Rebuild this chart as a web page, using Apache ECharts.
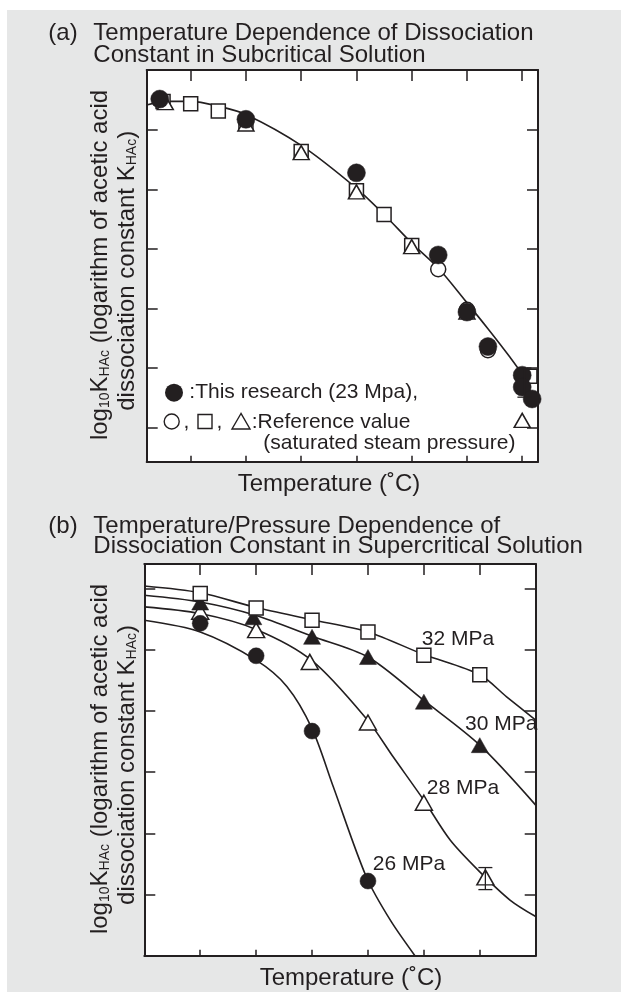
<!DOCTYPE html>
<html>
<head>
<meta charset="utf-8">
<title>Dissociation constant of acetic acid</title>
<script src="https://cdn.jsdelivr.net/npm/echarts@6/dist/echarts.min.js"></script>
<style>
  html, body { margin: 0; padding: 0; background: #fff; }
  #chart { width: 621px; height: 992px; }
</style>
</head>
<body>
<div id="chart"></div>
<script>
// ---- (a) subcritical, temperature in degC, value = log10 K_HAc ----
const aTicksT = [50, 100, 150, 200, 250, 300, 350]
const aTicksLogK = [-5, -5.5, -6, -6.5, -7, -7.5]
const aResearch = [[22, -4.74], [100, -4.91], [200, -5.36], [274, -6.05], [300, -6.53], [319, -6.82], [350, -7.06], [350, -7.16], [359, -7.26]]
const aRefCircle = [[274, -6.17], [300, -6.51], [319, -6.85]]
const aRefSquare = [[25, -4.76], [50, -4.78], [75, -4.84], [100, -4.94], [150, -5.18], [200, -5.51], [225, -5.71], [250, -5.97], [357, -7.07]]
const aRefTriangle = [[27, -4.77], [100, -4.95], [150, -5.19], [200, -5.52], [250, -5.98], [300, -6.53], [350, -7.44]]
const aFit = [[10.2, -4.79], [28, -4.76], [50, -4.76], [75, -4.8], [100, -4.87], [150, -5.13], [200, -5.49], [225, -5.71], [250, -5.95], [274, -6.16], [299, -6.44], [319, -6.67], [339, -6.91], [349.5, -7.05], [361.5, -7.28]]
const aErr = [[352, -7.0, -7.245]]

// ---- (b) supercritical, one series per pressure ----
const bP26 = [[380, -5.57], [390, -6.1], [400, -7.33], [410, -9.78]]
const bP28 = [[380, -5.38], [390, -5.68], [399.6, -6.2], [410, -7.19], [420, -8.5], [431, -9.72]]
const bP30 = [[380, -5.23], [389.5, -5.47], [400, -5.79], [410, -6.12], [420, -6.85], [430, -7.56]]
const bP32 = [[380, -5.08], [390, -5.32], [400, -5.52], [410, -5.71], [420, -6.09], [430, -6.41]]
const bFit26 = [[370, -5.52], [380, -5.71], [390, -6.17], [395.5, -6.6], [400, -7.29], [403.8, -8.24], [409.7, -9.71], [414, -10.42], [418.4, -11]]
const bFit28 = [[370, -5.3], [380, -5.41], [390, -5.67], [400, -6.18], [410, -7.16], [414.5, -7.75], [420, -8.46], [424.7, -9.11], [430, -9.63], [435.4, -10.09], [440, -10.36]]
const bFit30 = [[370, -5.11], [380, -5.22], [390, -5.44], [400, -5.78], [410, -6.12], [420, -6.83], [430, -7.56], [440, -8.54]]
const bFit32 = [[370, -4.96], [380, -5.07], [390, -5.31], [400, -5.51], [410, -5.71], [420, -6.08], [430, -6.41], [434.8, -6.77], [440, -7.15]]
const bErr = [[431, -9.56, -9.92]]

const INK = '#231f20'
const FONT = '"Liberation Sans", Arial, sans-serif'

const chart = echarts.init(document.getElementById('chart'), null, { renderer: 'canvas' })

function axis(grid, min, max, pos, len, ticks) {
  const ax = {
    gridIndex: grid, type: 'value', min: min, max: max, position: pos,
    axisLine: { show: true, onZero: false, lineStyle: { color: INK, width: 2 } },
    axisTick: { show: true, inside: true, length: len, lineStyle: { color: INK, width: 1.5 } },
    axisLabel: { show: false },
    splitLine: { show: false }
  }
  if (Array.isArray(ticks)) ax.axisTick.customValues = ticks
  else ax.interval = ticks
  return ax
}

function line(name, data, xi) {
  return {
    name: name, type: 'line', xAxisIndex: xi, yAxisIndex: xi, data: data,
    showSymbol: false, smooth: 0.3, silent: true,
    lineStyle: { color: INK, width: 1.6 }, z: 2
  }
}

function dots(name, data, xi, symbol, size, filled) {
  return {
    name: name, type: 'scatter', xAxisIndex: xi, yAxisIndex: xi, data: data,
    symbol: symbol, symbolSize: size, silent: true, z: 3,
    itemStyle: filled
      ? { color: INK, borderColor: INK, borderWidth: 0.5, opacity: 1 }
      : { color: '#fff', borderColor: INK, borderWidth: 1.5, opacity: 1 }
  }
}

function errorBars(data, xi) {
  return {
    type: 'custom', xAxisIndex: xi, yAxisIndex: xi, data: data, z: 4, silent: true,
    encode: { x: 0, y: [1, 2] },
    renderItem: function (params, api) {
      const x = api.value(0)
      const lo = api.coord([x, api.value(1)])
      const hi = api.coord([x, api.value(2)])
      const w = 7
      const style = { stroke: INK, lineWidth: 1.3 }
      return {
        type: 'group', children: [
          { type: 'line', shape: { x1: lo[0], y1: lo[1], x2: hi[0], y2: hi[1] }, style: style },
          { type: 'line', shape: { x1: lo[0] - w, y1: lo[1], x2: lo[0] + w, y2: lo[1] }, style: style },
          { type: 'line', shape: { x1: hi[0] - w, y1: hi[1], x2: hi[0] + w, y2: hi[1] }, style: style }
        ]
      }
    }
  }
}

function txt(x, y, text, size, align) {
  return {
    type: 'text', x: x, y: y, z: 10, silent: true,
    style: { text: text, fill: INK, font: size + 'px ' + FONT, align: align || 'left', verticalAlign: 'middle' }
  }
}

// rotated y-axis label, two lines, with subscripts
const yRich = {
  n: { fontSize: 24, fontFamily: FONT, color: INK, lineHeight: 24, verticalAlign: 'middle' },
  s: { fontSize: 14, fontFamily: FONT, color: INK, lineHeight: 14, verticalAlign: 'bottom' }
}
function yLabel(x, y, text) {
  return {
    type: 'text', x: x, y: y, rotation: Math.PI / 2, z: 10, silent: true,
    style: { text: text, rich: yRich, fill: INK, font: '24px ' + FONT, align: 'center', verticalAlign: 'middle' }
  }
}
const yLine1 = '{n|log}{s|10}{n|K}{s|HAc}{n| (logarithm of acetic acid}'
const yLine2 = '{n|dissociation constant K}{s|HAc}{n|)}'

const option = {
  backgroundColor: '#fff',
  animation: false,
  grid: [
    { left: 146.7, top: 70, width: 391.3, height: 391.7, show: true, backgroundColor: '#fff', borderWidth: 0 },
    { left: 144.3, top: 564, width: 391.4, height: 391.7, show: true, backgroundColor: '#fff', borderWidth: 0 }
  ],
  xAxis: [
    axis(0, 10.2, 364.3, 'bottom', 6, aTicksT),
    axis(0, 10.2, 364.3, 'top', 11, aTicksT),
    axis(1, 370, 440, 'bottom', 6, 10),
    axis(1, 370, 440, 'top', 11, 10)
  ],
  yAxis: [
    axis(0, -7.787, -4.496, 'left', 11, aTicksLogK),
    axis(0, -7.787, -4.496, 'right', 11, aTicksLogK),
    axis(1, -11, -4.6, 'left', 11, 1),
    axis(1, -11, -4.6, 'right', 11, 1)
  ],
  series: [
    line('fit (a)', aFit, 0),
    dots('ref square', aRefSquare, 0, 'rect', 14, false),
    dots('ref triangle', aRefTriangle, 0, 'triangle', [16, 14], false),
    dots('ref circle', aRefCircle, 0, 'circle', 15, false),
    dots('this research', aResearch, 0, 'circle', 18, true),
    errorBars(aErr, 0),

    line('26 MPa fit', bFit26, 2),
    line('28 MPa fit', bFit28, 2),
    line('30 MPa fit', bFit30, 2),
    line('32 MPa fit', bFit32, 2),
    dots('28 MPa', bP28, 2, 'triangle', [17, 15], false),
    dots('30 MPa', bP30, 2, 'triangle', [17, 15], true),
    dots('32 MPa', bP32, 2, 'rect', 14, false),
    dots('26 MPa', bP26, 2, 'circle', 16, true),
    errorBars(bErr, 2)
  ],
  graphic: [
    { type: 'rect', z: -10, silent: true, shape: { x: 7, y: 10, width: 614, height: 982 }, style: { fill: '#e6e7e7' } },

    // (a) title and axis names
    txt(48.3, 33, '(a)', 24),
    txt(93.3, 33, 'Temperature Dependence of Dissociation', 24),
    txt(93.3, 55, 'Constant in Subcritical Solution', 24),
    txt(329, 484, 'Temperature (˚C)', 24, 'center'),
    yLabel(100.5, 265, yLine1),
    yLabel(127, 270.8, yLine2),

    // (a) legend
    { type: 'circle', z: 10, silent: true, shape: { cx: 174, cy: 392.7, r: 9 }, style: { fill: INK } },
    txt(189.3, 392.5, ':This research (23 Mpa),', 21),
    { type: 'circle', z: 10, silent: true, shape: { cx: 171.7, cy: 421.5, r: 7.5 }, style: { fill: '#fff', stroke: INK, lineWidth: 1.4 } },
    txt(183.5, 422, ',', 21),
    { type: 'rect', z: 10, silent: true, shape: { x: 198, y: 414.5, width: 14, height: 14 }, style: { fill: '#fff', stroke: INK, lineWidth: 1.4 } },
    txt(216.5, 422, ',', 21),
    { type: 'polygon', z: 10, silent: true, shape: { points: [[241, 413.5], [232, 429], [250, 429]] }, style: { fill: '#fff', stroke: INK, lineWidth: 1.4 } },
    txt(251.7, 422, ':Reference value', 21),
    txt(263.3, 443, '(saturated steam pressure)', 21),

    // (b) title and axis names
    txt(48.3, 526, '(b)', 24),
    txt(93.3, 526, 'Temperature/Pressure Dependence of', 24),
    txt(93.3, 546, 'Dissociation Constant in Supercritical Solution', 24),
    txt(351, 978, 'Temperature (˚C)', 24, 'center'),
    yLabel(100.5, 759, yLine1),
    yLabel(127, 765, yLine2),

    // (b) pressure labels
    txt(421.7, 639.5, '32 MPa', 21),
    txt(465, 724, '30 MPa', 21),
    txt(426.7, 788.5, '28 MPa', 21),
    txt(372.7, 864.5, '26 MPa', 21)
  ]
}

chart.setOption(option)
</script>
</body>
</html>
